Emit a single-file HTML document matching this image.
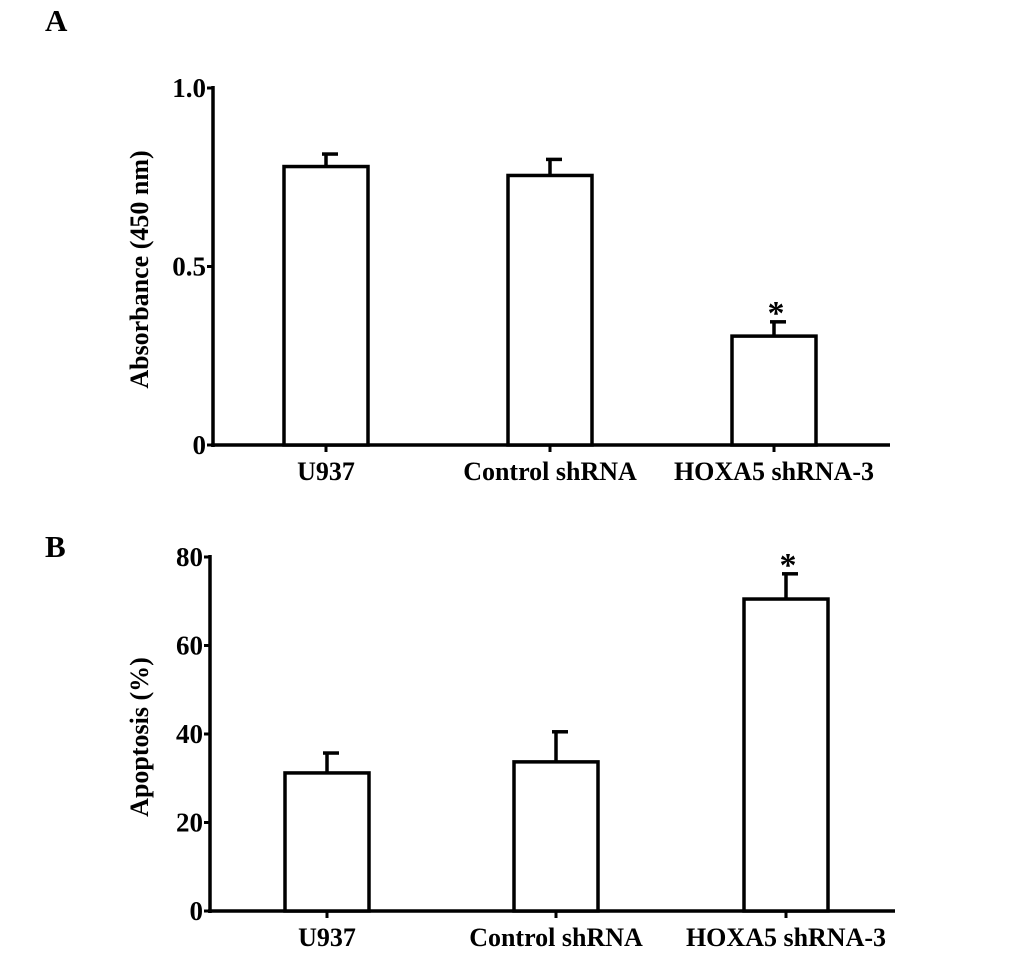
<!DOCTYPE html>
<html><head><meta charset="utf-8"><style>
body{margin:0;background:#fff;}
svg text{font-family:"Liberation Serif",serif;font-weight:bold;fill:#000;}
</style></head><body>
<svg id="fig" width="1033" height="955" viewBox="0 0 1033 955">
<text x="45" y="31" font-size="31">A</text>
<text x="45" y="557" font-size="31">B</text>
<g id="chartA"></g>
<g id="chartB"></g>
</svg>
<script>
const categories = ["U937", "Control shRNA", "HOXA5 shRNA-3"];
const absorbanceValues = [0.78, 0.755, 0.305];
const absorbanceErrors = [0.035, 0.045, 0.04];
const absorbanceTicks = ["0", "0.5", "1.0"];
const absorbanceTickValues = [0, 0.5, 1.0];
const apoptosisValues = [31.2, 33.7, 70.5];
const apoptosisErrors = [4.5, 6.8, 5.7];
const apoptosisTicks = ["0", "20", "40", "60", "80"];
const apoptosisTickValues = [0, 20, 40, 60, 80];
const significant = [false, false, true];

const NS = "http://www.w3.org/2000/svg";
function mk(parent, tag, attrs){const e=document.createElementNS(NS,tag);for(const k in attrs)e.setAttribute(k,attrs[k]);parent.appendChild(e);return e;}

function drawChart(g, cfg){
  const y = v => cfg.y0 - (v - cfg.min)/(cfg.max - cfg.min)*(cfg.y0 - cfg.y1);
  const x = i => cfg.centers[i];
  let e;
  e=mk(g,"line",{x1:cfg.ax,y1:cfg.y1-2,x2:cfg.ax,y2:cfg.y0+2,stroke:"#000","stroke-width":3.5});
  
  
  e=mk(g,"line",{x1:cfg.ax-2,y1:cfg.y0,x2:cfg.xEnd,y2:cfg.y0,stroke:"#000","stroke-width":3.5});
  
  
  cfg.tickVals.forEach((v,i)=>{
    e=mk(g,"line",{x1:cfg.ax-6,y1:y(v),x2:cfg.ax,y2:y(v),stroke:"#000","stroke-width":3});
    
    
    e=mk(g,"text",{x:cfg.ax-7,y:y(v)+9,"font-size":27,"text-anchor":"end"});
    e.textContent=cfg.tickLabels[i];
    
    
  });
  e=mk(g,"text",{x:0,y:0,"font-size":26,"text-anchor":"middle",transform:`translate(${cfg.titleX},${(cfg.y0+cfg.y1)/2+3}) rotate(-90)`});
  e.textContent=cfg.title;
  
  
  categories.forEach((c,i)=>{
    const top=y(cfg.values[i]), et=y(cfg.values[i]+cfg.errors[i]);
    e=mk(g,"line",{x1:x(i),y1:top,x2:x(i),y2:et,stroke:"#000","stroke-width":3.5});
    
    
    e=mk(g,"line",{x1:x(i)-4,y1:et,x2:x(i)+12,y2:et,stroke:"#000","stroke-width":3.5});
    
    
    e=mk(g,"rect",{x:x(i)-42,y:top,width:84,height:cfg.y0-top,fill:"#fff",stroke:"#000","stroke-width":3.5});
    
    
    e=mk(g,"line",{x1:x(i),y1:cfg.y0,x2:x(i),y2:cfg.y0+7,stroke:"#000","stroke-width":3});
    
    
    e=mk(g,"text",{x:x(i),y:cfg.y0+35,"font-size":26,"text-anchor":"middle"});
    e.textContent=c;
    
    
    if(significant[i]){
      e=mk(g,"text",{x:x(i)+2,y:et+2,"font-size":34,"text-anchor":"middle"});
      e.textContent="*";
      
      
    }
  });
}
drawChart(document.getElementById("chartA"),{y0:445,y1:88,min:0,max:1,ax:213,xEnd:890,centers:[326,550,774],
  values:absorbanceValues,errors:absorbanceErrors,tickVals:absorbanceTickValues,tickLabels:absorbanceTicks,title:"Absorbance (450 nm)",titleX:148});
drawChart(document.getElementById("chartB"),{y0:911,y1:557,min:0,max:80,ax:210,xEnd:895,centers:[327,556,786],
  values:apoptosisValues,errors:apoptosisErrors,tickVals:apoptosisTickValues,tickLabels:apoptosisTicks,title:"Apoptosis (%)",titleX:148});
</script>
</body></html>
